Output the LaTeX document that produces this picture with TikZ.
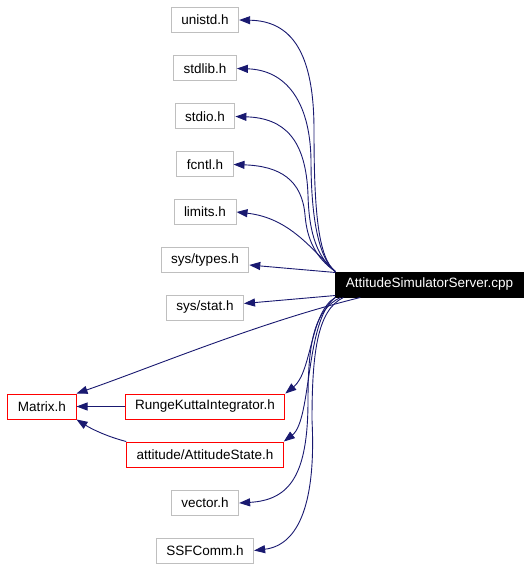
\documentclass[tikz,border=0pt]{standalone}
\usepackage{fontspec}
\setmainfont{Liberation Sans}
\usetikzlibrary{arrows.meta}
\definecolor{depblue}{HTML}{191970}
\definecolor{boxgray}{HTML}{BFBFBF}

\begin{document}
\begin{tikzpicture}[
  x=1pt, y=-1pt,
  font=\fontsize{13.5}{15}\selectfont,
  hdr/.style={draw=boxgray, line width=1pt, fill=white, inner xsep=10pt, minimum height=25pt},
  local/.style={hdr, draw=red},
  src/.style={hdr, draw=black, fill=black, text=white},
  dep/.style={-{Triangle[length=11pt, width=8pt]}, draw=depblue, line width=0.9pt}
]
\useasboundingbox (0,0) rectangle (529,569);

\node[src] (cpp) at (429.5,284.5) {AttitudeSimulatorServer.cpp};
\node[hdr] (unistd) at (205,20) {unistd.h};
\node[hdr] (stdlib) at (205,68.5) {stdlib.h};
\node[hdr] (stdio) at (205,116.5) {stdio.h};
\node[hdr] (fcntl) at (205,164.5) {fcntl.h};
\node[hdr] (limits) at (205,212) {limits.h};
\node[hdr] (systypes) at (205,260) {sys/types.h};
\node[hdr] (sysstat) at (205,307.5) {sys/stat.h};
\node[local] (matrix) at (42,406.5) {Matrix.h};
\node[local] (rk) at (205,406.5) {RungeKuttaIntegrator.h};
\node[local] (astate) at (205,454.5) {attitude/AttitudeState.h};
\node[hdr] (vector) at (205,503) {vector.h};
\node[hdr] (ssfcomm) at (205,550.5) {SSFComm.h};

\draw[dep] (cpp.north west) .. controls (318,258) and (314,210) .. (314,130)
  .. controls (314,50) and (290,21) .. (unistd.east);
\draw[dep] (cpp.north west) .. controls (318,258) and (311,215) .. (311,160)
  .. controls (310,100) and (285,70) .. (stdlib.east);
\draw[dep] (cpp.north west) .. controls (318,258) and (309,235) .. (308,195)
  .. controls (306,140) and (285,118) .. (stdio.east);
\draw[dep] (cpp.north west) .. controls (316,258) and (307,240) .. (305,215)
  .. controls (302,180) and (280,166) .. (fcntl.east);
\draw[dep] (cpp.north west) .. controls (312,250) and (290,218) .. (limits.east);
\draw[dep] ([yshift=-1pt]cpp.north west) -- ([yshift=-5pt]systypes.east);
\draw[dep] ([yshift=2pt]cpp.south west) -- ([yshift=4pt]sysstat.east);
\draw[dep] ([xshift=25pt]cpp.south west) .. controls (260,322) and (150,368) .. (matrix.north east);
\draw[dep] (cpp.south west) .. controls (310,312) and (312,372) .. (rk.north east);
\draw[dep] (cpp.south west) .. controls (305,320) and (312,420) .. (astate.north east);
\draw[dep] ([xshift=5pt]cpp.south west) .. controls (315,310) and (308,340) .. (308,400)
  .. controls (308,475) and (290,500) .. (vector.east);
\draw[dep] ([xshift=8pt]cpp.south west) .. controls (318,310) and (312,350) .. (312,420)
  .. controls (316,500) and (300,545) .. (ssfcomm.east);
\draw[dep] (rk.west) -- (matrix.east);
\draw[dep] (astate.north west) .. controls (105,436) and (90,428) .. (matrix.south east);
\end{tikzpicture}
\end{document}
